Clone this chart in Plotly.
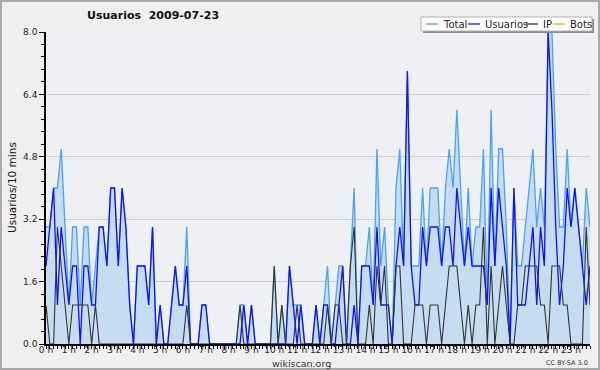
import plotly.graph_objects as go

# 10-minute slots, 0:00 .. 23:50 (144 values)
slots = list(range(144))
hour_ticks = list(range(0, 144, 6))
hour_labels = [f"{h} h" for h in range(24)]

usuarios = [2, 3, 4, 1, 3, 2, 1, 2, 2, 0, 2, 2, 1, 1, 3, 3, 2, 4, 4, 2, 4, 3, 1, 0,
            2, 2, 2, 1, 3, 0, 1, 0, 0, 1, 2, 1, 1, 2, 0, 0, 0, 1, 1, 0, 0, 0, 0, 0,
            0, 0, 0, 0, 1, 0, 1, 0, 0, 0, 0, 0, 0, 0, 0, 0, 2, 1, 0, 1, 0, 0, 0, 1,
            0, 1, 1, 0, 0, 1, 2, 0, 0, 1, 0, 2, 2, 2, 1, 3, 1, 1, 1, 0, 2, 3, 2, 7,
            2, 1, 1, 3, 2, 3, 3, 3, 2, 3, 3, 2, 4, 3, 2, 3, 2, 2, 2, 2, 1, 4, 2, 4,
            3, 2, 0, 4, 1, 1, 1, 2, 3, 1, 3, 2, 8, 6, 3, 1, 2, 4, 3, 4, 3, 2, 1, 2]
ip = [1, 0, 0, 3, 2, 1, 0, 1, 1, 1, 1, 1, 0, 1, 0, 0, 0, 0, 0, 0, 0, 0, 0, 0,
      0, 0, 0, 0, 0, 0, 0, 0, 0, 0, 0, 0, 0, 1, 0, 0, 0, 0, 0, 0, 0, 0, 0, 0,
      0, 0, 0, 1, 0, 0, 0, 0, 0, 0, 0, 0, 2, 0, 1, 0, 0, 0, 1, 0, 0, 0, 0, 0,
      0, 0, 1, 0, 1, 1, 0, 0, 2, 3, 0, 0, 0, 1, 0, 2, 1, 2, 0, 0, 2, 2, 0, 0,
      0, 1, 1, 1, 0, 1, 1, 1, 0, 1, 2, 2, 2, 1, 0, 1, 0, 1, 1, 3, 0, 2, 0, 1,
      2, 1, 0, 0, 1, 1, 2, 2, 2, 2, 1, 1, 0, 2, 2, 2, 1, 1, 0, 0, 0, 0, 3, 1]
total = [3, 3, 4, 4, 5, 3, 1, 3, 3, 1, 3, 3, 1, 2, 3, 3, 2, 4, 4, 2, 4, 3, 1, 0,
         2, 2, 2, 1, 3, 0, 1, 0, 0, 1, 2, 1, 1, 3, 0, 0, 0, 1, 1, 0, 0, 0, 0, 0,
         0, 0, 0, 1, 1, 0, 1, 0, 0, 0, 0, 0, 2, 0, 1, 0, 2, 1, 1, 1, 0, 0, 0, 1,
         0, 1, 2, 0, 1, 2, 2, 0, 2, 4, 0, 2, 2, 3, 1, 5, 2, 3, 1, 0, 4, 5, 2, 7,
         2, 2, 2, 4, 2, 4, 4, 4, 2, 4, 5, 4, 6, 4, 2, 4, 2, 3, 3, 5, 1, 6, 2, 5,
         5, 3, 0, 4, 2, 2, 3, 4, 5, 3, 4, 3, 8, 8, 5, 3, 3, 5, 3, 4, 3, 2, 4, 3]
bots = [0] * 144

legend_names = ["Total", "Usuarios", "IP", "Bots"]
legend_colors = ["#4aa3ef", "#1010ff", "#333333", "#ffa41c"]

W, H = 600, 370
L, R, T, B = 46, 10, 32, 26
PW, PH = W - L - R, H - T - B


def px(x):
    return (x - L) / PW


def py(y):
    return (H - B - y) / PH


fig = go.Figure()
fig.add_trace(go.Scatter(x=slots, y=bots, mode="lines", line=dict(color=legend_colors[3], width=1.2),
                         showlegend=False, hoverinfo="skip"))
fig.add_trace(go.Scatter(x=slots, y=total, mode="lines", fill="tozeroy", fillcolor="#c6dcf0",
                         line=dict(color=legend_colors[0], width=1.3), showlegend=False))
fig.add_trace(go.Scatter(x=slots, y=usuarios, mode="lines",
                         line=dict(color=legend_colors[1], width=1.3), showlegend=False))
fig.add_trace(go.Scatter(x=slots, y=ip, mode="lines",
                         line=dict(color=legend_colors[2], width=1.1), showlegend=False))

font = "DejaVu Sans"
shapes = []
annotations = []

# page frame
shapes.append(dict(type="rect", xref="paper", yref="paper", x0=px(1), x1=px(599), y0=py(369), y1=py(1),
                   line=dict(color="#a9a9a9", width=2), layer="below"))

# legend box with shadow
lx0, lx1, ly0, ly1 = 421, 592, 17, 31
shapes.append(dict(type="rect", xref="paper", yref="paper", x0=px(lx0 + 2), x1=px(lx1 + 2),
                   y0=py(ly1 + 2), y1=py(ly0 + 2), fillcolor="#8c8c8c", line=dict(width=0)))
shapes.append(dict(type="rect", xref="paper", yref="paper", x0=px(lx0), x1=px(lx1),
                   y0=py(ly1), y1=py(ly0), fillcolor="white", line=dict(color="#b0b0b0", width=1)))
item_x = [426, 468, 526, 553]
for name, col, xs in zip(legend_names, legend_colors, item_x):
    shapes.append(dict(type="line", xref="paper", yref="paper", x0=px(xs), x1=px(xs + 12),
                       y0=py(24), y1=py(24), line=dict(color=col, width=1.3)))
    annotations.append(dict(text=name, xref="paper", yref="paper", x=px(xs + 15), y=py(24),
                            xanchor="left", yanchor="middle", showarrow=False,
                            font=dict(family=font, size=10, color="#222222")))

annotations.append(dict(text="<b>Usuarios\u00a0\u00a02009-07-23</b>", xref="paper", yref="paper",
                        x=px(85), y=py(16), xanchor="left", yanchor="middle", showarrow=False,
                        font=dict(family=font, size=11, color="#111111")))
annotations.append(dict(text="Usuarios/10 mins", xref="paper", yref="paper", x=px(12), y=py(188),
                        textangle=-90, xanchor="center", yanchor="middle", showarrow=False,
                        font=dict(family=font, size=10.5, color="#111111")))
annotations.append(dict(text="wikiscan.org", xref="paper", yref="paper", x=px(301), y=py(363),
                        xanchor="center", yanchor="middle", showarrow=False,
                        font=dict(family=font, size=9.5, color="#333333")))
annotations.append(dict(text="CC BY-SA 3.0", xref="paper", yref="paper", x=px(590), y=py(363),
                        xanchor="right", yanchor="middle", showarrow=False,
                        font=dict(family=font, size=6.5, color="#333333")))

fig.update_layout(
    width=W, height=H, autosize=False,
    margin=dict(l=L, r=R, t=T, b=B, pad=0),
    paper_bgcolor="#efefef", plot_bgcolor="#eef0f3",
    showlegend=False,
    shapes=shapes, annotations=annotations,
    xaxis=dict(range=[0, 143], tickmode="array", tickvals=hour_ticks, ticktext=hour_labels,
               ticks="", ticklabelstandoff=-4,
               showline=True, linecolor="black", linewidth=2, showgrid=False, zeroline=False,
               tickfont=dict(family=font, size=9, color="#222222"),
               minor=dict(tickmode="linear", tick0=0, dtick=1, ticks="outside", ticklen=3,
                          tickcolor="black", showgrid=False)),
    yaxis=dict(range=[0, 8], tickmode="array", tickvals=[0, 1.6, 3.2, 4.8, 6.4, 8.0],
               ticktext=["0.0", "1.6", "3.2", "4.8", "6.4", "8.0"],
               ticks="outside", ticklen=5, tickwidth=1, tickcolor="black",
               showline=True, linecolor="black", linewidth=1.5, showgrid=True,
               gridcolor="#cccccc", gridwidth=1, zeroline=False,
               tickfont=dict(family=font, size=9, color="#222222"),
               minor=dict(tickmode="linear", tick0=0, dtick=0.32, ticks="outside", ticklen=3,
                          tickcolor="black", showgrid=False)),
)

fig.write_html("out.html", config={"displayModeBar": False},
               post_script="document.body.style.margin='0px';")
